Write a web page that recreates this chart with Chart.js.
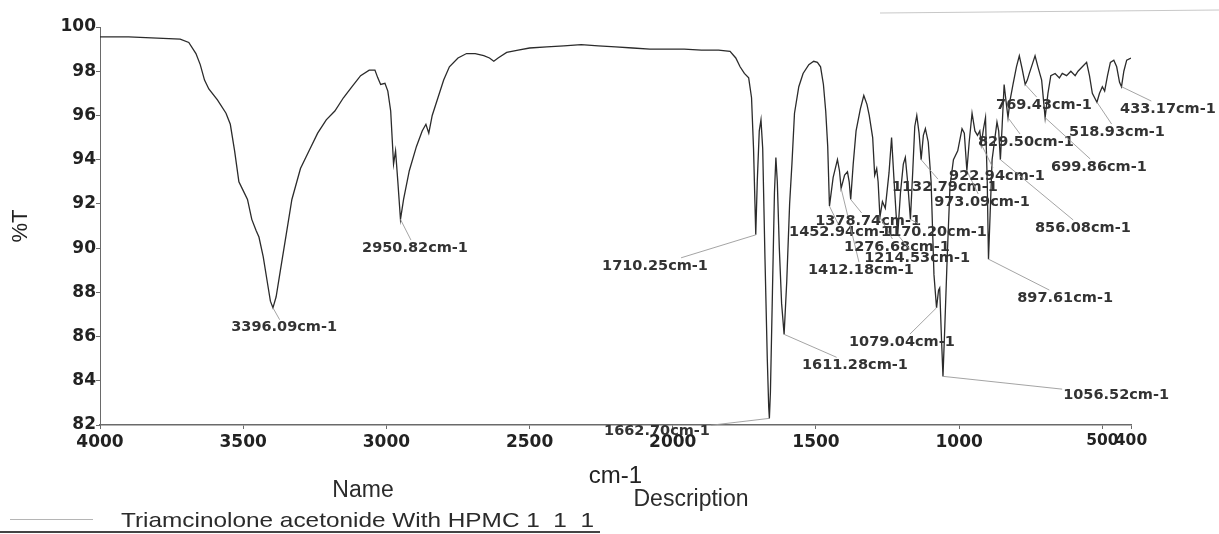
<!DOCTYPE html>
<html>
<head>
<meta charset="utf-8">
<title>FTIR – Triamcinolone acetonide With HPMC</title>
<script src="https://cdn.jsdelivr.net/npm/chart.js@4.4.1/dist/chart.umd.min.js"></script>
<style>
  html, body { margin: 0; padding: 0; background: #fff; }
  #wrap { position: relative; width: 1219px; height: 534px; }
</style>
</head>
<body>
<div id="wrap"><canvas id="ftir"></canvas></div>
<script>
/* FTIR transmittance spectrum.
   x = wavenumber (cm-1, plotted high -> low), y = %T */

const WAVENUMBERS = [
  4000, 3900, 3800, 3720, 3690, 3665, 3650, 3635, 3620, 3590,
  3560, 3545, 3530, 3515, 3500, 3485, 3470, 3455, 3445, 3430,
  3415, 3405, 3396.09, 3385, 3370, 3350, 3330, 3300, 3270, 3240,
  3210, 3180, 3150, 3120, 3090, 3060, 3040, 3030, 3020, 3005,
  2995, 2985, 2975, 2968, 2960, 2950.82, 2940, 2920, 2895, 2875,
  2862, 2852, 2840, 2820, 2800, 2780, 2750, 2720, 2690, 2660,
  2640, 2625, 2610, 2580, 2540, 2500, 2440, 2380, 2320, 2260,
  2200, 2140, 2080, 2020, 1960, 1900, 1840, 1800, 1780, 1765,
  1750, 1735, 1725, 1718, 1713, 1710.25, 1705, 1698, 1692, 1686,
  1678, 1670, 1665, 1662.7, 1659, 1652, 1645, 1640, 1635, 1628,
  1620, 1611.28, 1602, 1592, 1584, 1575, 1560, 1545, 1525, 1508,
  1495, 1484, 1474, 1466, 1459, 1452.94, 1440, 1425, 1418, 1412.18,
  1400, 1390, 1384, 1378.74, 1370, 1360, 1345, 1333, 1322, 1314,
  1302, 1295, 1288, 1283, 1276.68, 1268, 1258, 1245, 1236, 1228,
  1220, 1214.53, 1205, 1195, 1188, 1180, 1170.2, 1162, 1155, 1148,
  1140, 1132.79, 1125, 1118, 1108, 1098, 1088, 1079.04, 1072, 1068,
  1062, 1056.52, 1050, 1042, 1032, 1020, 1005, 990, 982, 973.09,
  965, 955, 945, 936, 928, 922.94, 915, 908, 902, 897.61,
  892, 885, 875, 868, 862, 856.08, 850, 843, 836, 829.5,
  822, 812, 800, 790, 780, 769.43, 762, 755, 745, 735,
  725, 712, 699.86, 690, 680, 665, 650, 640, 625, 610,
  595, 585, 570, 555, 545, 535, 518.93, 510, 500, 492,
  482, 472, 460, 450, 440, 433.17, 425, 415, 400
];

const TRANSMITTANCE = [
  99.55, 99.55, 99.5, 99.45, 99.3, 98.8, 98.3, 97.6, 97.2, 96.7,
  96.1, 95.6, 94.4, 93.0, 92.6, 92.2, 91.3, 90.8, 90.5, 89.6,
  88.4, 87.6, 87.3, 87.8, 89.0, 90.6, 92.2, 93.6, 94.4, 95.2,
  95.8, 96.2, 96.8, 97.3, 97.8, 98.05, 98.05, 97.7, 97.4, 97.45,
  97.1, 96.2, 93.8, 94.4, 93.0, 91.3, 92.2, 93.5, 94.6, 95.3,
  95.6, 95.2, 96.0, 96.8, 97.6, 98.2, 98.6, 98.8, 98.8, 98.7,
  98.6, 98.45, 98.6, 98.85, 98.95, 99.05, 99.1, 99.15, 99.2, 99.15,
  99.1, 99.05, 99.0, 99.0, 99.0, 98.95, 98.95, 98.9, 98.6, 98.2,
  97.9, 97.7, 96.8, 94.5, 92.0, 90.6, 93.0, 95.3, 95.8, 94.5,
  89.5, 85.0, 82.8, 82.3, 83.5, 88.0, 92.5, 94.1, 93.0, 90.0,
  87.5, 86.1, 88.5, 92.0, 93.8, 96.1, 97.3, 97.9, 98.3, 98.45,
  98.4, 98.2, 97.4, 96.2, 94.6, 91.9, 93.2, 94.0, 93.5, 92.7,
  93.3, 93.45, 93.0, 92.2, 93.8, 95.3, 96.3, 96.9, 96.5, 96.0,
  95.0, 93.3, 93.6, 93.0, 91.4, 92.1, 91.8, 93.4, 95.0, 93.2,
  91.5, 90.6, 92.5, 93.8, 94.1, 93.0, 91.3, 93.5, 95.5, 96.0,
  95.2, 94.0, 95.1, 95.4, 94.8, 93.0, 88.8, 87.3, 88.1, 88.2,
  86.0, 84.2, 86.5, 89.5, 92.8, 94.0, 94.4, 95.4, 95.2, 93.5,
  94.8, 96.1, 95.3, 95.1, 95.3, 94.7, 95.4, 95.9, 93.0, 89.5,
  91.5, 94.0, 95.0, 95.7, 95.3, 94.0, 95.5, 97.4, 96.6, 95.9,
  96.7, 97.4, 98.2, 98.7, 98.1, 97.4, 97.6, 97.9, 98.3, 98.7,
  98.2, 97.6, 95.9, 97.0, 97.8, 97.9, 97.7, 97.9, 97.8, 98.0,
  97.8, 98.0, 98.2, 98.4, 97.8, 97.0, 96.6, 97.0, 97.3, 97.1,
  97.8, 98.4, 98.5, 98.2, 97.5, 97.3, 98.0, 98.5, 98.6
];

const X_TICKS = [4000, 3500, 3000, 2500, 2000, 1500, 1000, 500, 400];
const Y_MIN = 82;
const Y_MAX = 100;

/* peak annotations: [peak wavenumber, label centre wavenumber, label centre %T] */
const PEAK_NOTES = [
  [3396.09, 3357, 86.4],
  [2950.82, 2900, 90.0],
  [1710.25, 2062, 89.2],
  [1662.7, 2055, 81.7],
  [1611.28, 1364, 84.7],
  [1452.94, 1409, 90.73],
  [1412.18, 1343, 89.0],
  [1378.74, 1318, 91.23],
  [1276.68, 1217, 90.05],
  [1214.53, 1147, 89.55],
  [1170.2, 1088, 90.73],
  [1132.79, 1050, 92.76],
  [1079.04, 1200, 85.75],
  [1056.52, 452, 83.36],
  [973.09, 920, 92.09],
  [922.94, 868, 93.26],
  [897.61, 630, 87.74],
  [856.08, 568, 90.91],
  [829.5, 767, 94.8],
  [769.43, 704, 96.47],
  [699.86, 512, 93.67],
  [518.93, 449, 95.25],
  [433.17, 271, 96.29]
];

const FOOTER_HEADERS = ['Name', 'Description'];
const LEGEND_TEXT = 'Triamcinolone acetonide With HPMC 1  1  1';

const INK = '#2b2b2b';
const LEADER = '#9a9a9a';
const AXIS = '#6a6a6a';

/* peak labels with thin leader lines */
const peakLabels = {
  id: 'peakLabels',
  afterDatasetsDraw(chart) {
    const { ctx, scales: { x, y } } = chart;
    ctx.save();
    ctx.font = 'bold 14.5px "DejaVu Sans"';
    ctx.textAlign = 'center';
    ctx.textBaseline = 'middle';
    PEAK_NOTES.forEach(([wn, lx, ly]) => {
      const i = WAVENUMBERS.indexOf(wn);
      const px = x.getPixelForValue(wn);
      const py = y.getPixelForValue(TRANSMITTANCE[i]);
      const cx = x.getPixelForValue(lx);
      const cy = y.getPixelForValue(ly);
      const text = wn.toFixed(2) + 'cm-1';
      const hw = ctx.measureText(text).width / 2 + 1;
      const hh = 8;
      const dx = px - cx, dy = py - cy;
      const t = Math.min(Math.abs(hw / dx) || Infinity, Math.abs(hh / dy) || Infinity);
      if (t < 1) {
        ctx.strokeStyle = LEADER;
        ctx.lineWidth = 0.9;
        ctx.beginPath();
        ctx.moveTo(px, py);
        ctx.lineTo(cx + dx * t, cy + dy * t);
        ctx.stroke();
      }
      ctx.fillStyle = '#333';
      ctx.fillText(text, cx, cy);
    });
    ctx.restore();
  }
};

/* Name / Description header and the single legend row under the plot */
const footer = {
  id: 'footer',
  afterDraw(chart) {
    const { ctx } = chart;
    ctx.save();
    ctx.fillStyle = INK;
    ctx.textBaseline = 'middle';
    ctx.textAlign = 'center';
    ctx.font = '23px "Liberation Sans"';
    ctx.fillText(FOOTER_HEADERS[0], 363, 491);
    ctx.fillText(FOOTER_HEADERS[1], 691, 500);

    /* the printout stretches the legend row sideways */
    ctx.save();
    ctx.textAlign = 'left';
    ctx.font = '21px "Liberation Sans"';
    ctx.translate(121, 521);
    ctx.scale(1.16, 1);
    ctx.fillText(LEGEND_TEXT, 0, 0);
    ctx.restore();

    ctx.strokeStyle = '#b5b5b5';
    ctx.lineWidth = 1;
    ctx.beginPath();
    ctx.moveTo(10, 519.5);
    ctx.lineTo(93, 519.5);
    ctx.stroke();

    ctx.strokeStyle = '#444';
    ctx.lineWidth = 2;
    ctx.beginPath();
    ctx.moveTo(0, 532);
    ctx.lineTo(600, 532);
    ctx.stroke();

    /* faint page edge at the top right of the scan */
    ctx.strokeStyle = '#c8c8c8';
    ctx.lineWidth = 1;
    ctx.beginPath();
    ctx.moveTo(880, 13);
    ctx.lineTo(1219, 10);
    ctx.stroke();
    ctx.restore();
  }
};

const yTickFont = { family: '"DejaVu Sans", sans-serif', size: 17, weight: 'bold' };
/* 500 and 400 sit close together: a touch smaller so they read as "500400" */
const xTickFont = (c) => ({
  family: '"DejaVu Sans", sans-serif',
  size: c.tick && c.tick.value <= 500 ? 15.5 : 17,
  weight: 'bold'
});

new Chart(document.getElementById('ftir'), {
  type: 'line',
  data: {
    datasets: [{
      label: LEGEND_TEXT,
      data: WAVENUMBERS.map((wn, i) => ({ x: wn, y: TRANSMITTANCE[i] })),
      borderColor: INK,
      borderWidth: 1.3,
      pointRadius: 0,
      tension: 0,
      fill: false
    }]
  },
  options: {
    responsive: true,
    maintainAspectRatio: false,
    animation: false,
    devicePixelRatio: 1,
    layout: { padding: { top: 27, right: 88, left: 0, bottom: 0 } },
    plugins: {
      legend: { display: false },
      tooltip: { enabled: false }
    },
    scales: {
      x: {
        type: 'linear',
        reverse: true,
        min: 400,
        max: 4000,
        afterBuildTicks: (s) => { s.ticks = X_TICKS.map(v => ({ value: v })); },
        afterFit: (s) => { s.height = 109; },
        ticks: {
          autoSkip: false,
          maxRotation: 0,
          padding: 3,
          color: '#222',
          font: xTickFont,
          callback: (v) => String(v)
        },
        grid: { drawOnChartArea: false, drawTicks: true, tickLength: 4, color: AXIS },
        border: { color: AXIS, width: 1.5 },
        title: {
          display: true,
          text: 'cm-1',
          color: '#222',
          font: { family: '"Liberation Sans", sans-serif', size: 24 },
          padding: { top: 0, bottom: 43 }
        }
      },
      y: {
        min: Y_MIN,
        max: Y_MAX,
        afterFit: (s) => { s.width = 100; },
        ticks: {
          stepSize: 2,
          padding: 0,
          color: '#222',
          font: yTickFont
        },
        grid: { drawOnChartArea: false, drawTicks: true, tickLength: 4, color: AXIS },
        border: { color: AXIS, width: 1 },
        title: {
          display: true,
          text: '%T',
          color: '#222',
          font: { family: '"Liberation Sans", sans-serif', size: 22 },
          padding: { top: 8, bottom: 0 }
        }
      }
    }
  },
  plugins: [peakLabels, footer]
});
</script>
</body>
</html>
